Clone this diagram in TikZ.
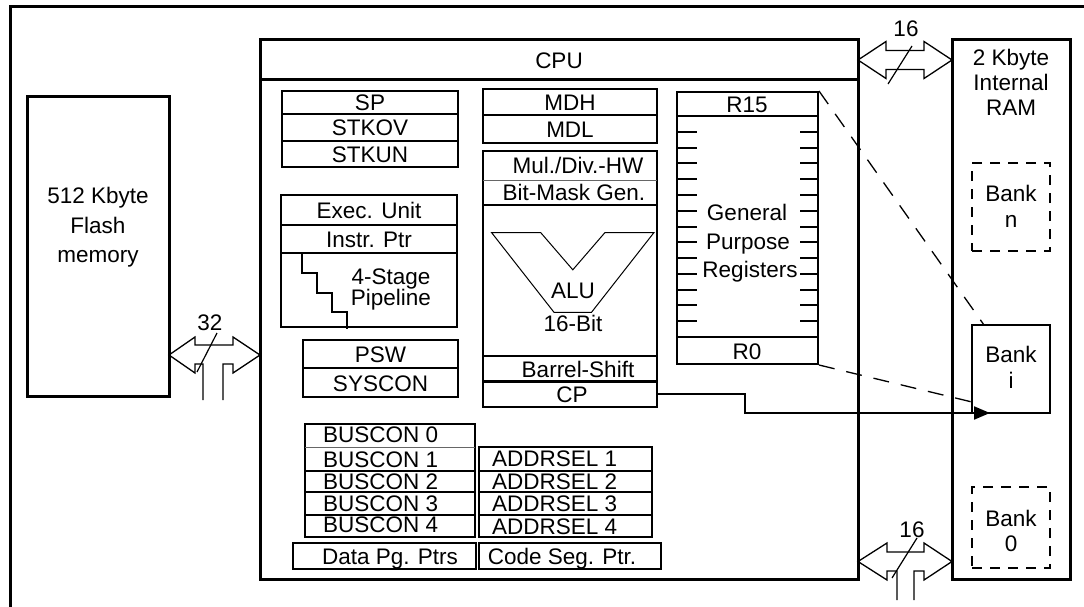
\documentclass[tikz,border=0pt]{standalone}
\usepackage{fontspec}
\setmainfont{Liberation Sans}
\usetikzlibrary{arrows.meta}
\begin{document}
\begin{tikzpicture}[x=1pt,y=-1pt,
  txt/.style={font=\fontsize{22.5}{27}\selectfont, inner sep=0pt, text height=16.1pt, text depth=0pt},
  heavy/.style={draw, line width=3pt, inner sep=0pt},
  cell/.style={draw, line width=2pt, inner sep=0pt},
  sep/.style={line width=2pt},
  thinsep/.style={line width=1pt, black!60},
  busarrow/.style={line width=1.3pt, line join=miter},
  slash/.style={line width=1.2pt},
  dashconn/.style={line width=1.3pt, dash pattern=on 16pt off 12pt},
  bankdash/.style={draw, line width=2pt, dash pattern=on 10pt off 8pt, inner sep=0pt},
  conn/.style={line width=2pt, -{Triangle[length=16pt,width=13pt]}},
]
\clip (0,0) rectangle (1084,607);
\useasboundingbox (0,0) rectangle (1084,607);

% outer frame
\draw[line width=3pt] (10,620) -- (10,7) -- (1100,7);

% flash
\node[heavy, minimum width=142, minimum height=299] (flash) at (98,246.5) {};
\node[txt] (fl1) at (98,195) {512 Kbyte};
\node[txt] (fl2) at (98,225) {Flash};
\node[txt] (fl3) at (98,254) {memory};

% CPU
\node[heavy, minimum width=598, minimum height=539] (cpu) at (559,309.5) {};
\draw[line width=3pt] (260,80) -- (858,80);
\node[txt] (cputxt) at (559,60) {CPU};

% SP stack
\node[cell, minimum width=176, minimum height=23] (sp) at (370,102.5) {};
\node[cell, minimum width=176, minimum height=27] (stkov) at (370,127.5) {};
\node[cell, minimum width=176, minimum height=26] (stkun) at (370,154) {};
\node[txt] at (370,102.5) {SP};
\node[txt] at (370,127.5) {STKOV};
\node[txt] at (370,154.5) {STKUN};

% Exec unit
\node[cell, minimum width=176, minimum height=30] (exec) at (369,210) {};
\node[cell, minimum width=176, minimum height=28] (instr) at (369,239) {};
\node[cell, minimum width=176, minimum height=74] (pipe) at (369,290) {};
\node[txt] at (369,210) {Exec. Unit};
\node[txt] at (369,239.5) {Instr. Ptr};
\node[txt] at (391,276) {4-Stage};
\node[txt] at (391,297) {Pipeline};
\draw[sep] (302,253) -- (302,273) -- (317,273) -- (317,293) -- (332,293) -- (332,312) -- (347,312) -- (347,329);

% PSW
\node[cell, minimum width=155, minimum height=28] (psw) at (380.5,354) {};
\node[cell, minimum width=155, minimum height=29] (syscon) at (380.5,382.5) {};
\node[txt] at (380.5,354) {PSW};
\node[txt] at (380.5,383) {SYSCON};

% MDH / MDL
\node[cell, minimum width=174, minimum height=26] (mdh) at (570,102) {};
\node[cell, minimum width=174, minimum height=28] (mdl) at (570,129) {};
\node[txt] at (570,102) {MDH};
\node[txt] at (570,129.5) {MDL};

% Mul/Div, ALU, Barrel
\node[cell, minimum width=174, minimum height=231] (muldiv) at (570,266.5) {};
\draw[thinsep] (483,180) -- (657,180);
\draw[sep] (483,205) -- (657,205);
\draw[sep] (483,356) -- (657,356);
\node[txt] at (578,165.5) {Mul./Div.-HW};
\node[txt] at (574,192.5) {Bit-Mask Gen.};
\node[txt] at (578,369) {Barrel-Shift};
\draw[line width=1pt] (491.5,232.5) -- (540.6,232.5) -- (572.8,269.8) -- (605,232.5) -- (654,232.5) -- (591.5,312.3) -- (554,312.3) -- cycle;
\node[txt] at (573,290) {ALU};
\node[txt] at (573,323) {16-Bit};
\node[cell, minimum width=174, minimum height=26] (cp) at (570,394) {};
\node[txt] at (572,394.5) {CP};

% General purpose registers
\node[cell, minimum width=141, minimum height=24] (r15) at (747.5,104) {};
\node[cell, minimum width=141, minimum height=221] (gpr) at (747.5,226.5) {};
\node[cell, minimum width=141, minimum height=27] (r0) at (747.5,350.5) {};
\node[txt] at (747,104.5) {R15};
\node[txt] at (747,351) {R0};
\node[txt] at (747,212) {General};
\node[txt] at (748,241) {Purpose};
\node[txt] at (750,269) {Registers};
\foreach \k in {1,...,13} {
  \draw[sep] (677,{116+15.79*\k}) -- (697,{116+15.79*\k});
  \draw[sep] (800,{116+15.79*\k}) -- (818,{116+15.79*\k});
}

% BUSCON
\node[cell, minimum width=170, minimum height=113] (buscon) at (390,480.5) {};
\draw[thinsep] (305,447) -- (475,447);
\draw[sep] (305,471) -- (475,471);
\draw[sep] (305,492) -- (475,492);
\draw[sep] (305,515) -- (475,515);
\node[txt, anchor=west] at (323,434) {BUSCON 0};
\node[txt, anchor=west] at (323,459) {BUSCON 1};
\node[txt, anchor=west] at (323,481) {BUSCON 2};
\node[txt, anchor=west] at (323,503) {BUSCON 3};
\node[txt, anchor=west] at (323,524) {BUSCON 4};

% ADDRSEL
\node[cell, minimum width=173, minimum height=90] (addrsel) at (565.5,492) {};
\draw[sep] (479,471) -- (652,471);
\draw[sep] (479,492) -- (652,492);
\draw[sep] (479,515) -- (652,515);
\node[txt, anchor=west] at (492,458.5) {ADDRSEL 1};
\node[txt, anchor=west] at (492,481) {ADDRSEL 2};
\node[txt, anchor=west] at (492,503.5) {ADDRSEL 3};
\node[txt, anchor=west] at (492,526) {ADDRSEL 4};

% pointers
\node[cell, minimum width=183, minimum height=26] (dpp) at (384.5,556) {};
\node[cell, minimum width=182, minimum height=26] (csp) at (570,556) {};
\node[txt] at (390,556) {Data Pg. Ptrs};
\node[txt] at (562,556) {Code Seg. Ptr.};

% RAM
\node[heavy, minimum width=118, minimum height=539] (ram) at (1011,309.5) {};
\node[txt] at (1011,57) {2 Kbyte};
\node[txt] at (1011,82) {Internal};
\node[txt] at (1011,107) {RAM};
\node[bankdash, minimum width=78, minimum height=88] (bankn) at (1011,207) {};
\node[txt] at (1011,193) {Bank};
\node[txt] at (1011,219) {n};
\node[cell, minimum width=78, minimum height=88] (banki) at (1011,369) {};
\node[txt] at (1011,354) {Bank};
\node[txt] at (1011,380) {i};
\node[bankdash, minimum width=78, minimum height=81] (bank0) at (1011,527.5) {};
\node[txt] at (1011,518) {Bank};
\node[txt] at (1011,543) {0};

% bus arrows
\draw[busarrow] (858,60) -- (886,41.5) -- (886,50.5) -- (924,50.5) -- (924,41.5) -- (952,60) -- (924,78.5) -- (924,69.5) -- (886,69.5) -- (886,78.5) -- cycle;
\draw[slash] (912,46) -- (888,84);
\node[txt] at (906,28) {16};

\draw[busarrow] (897,600) -- (897,571) -- (887,571) -- (887,580) -- (858,561.5) -- (887,543) -- (887,552) -- (924,552) -- (924,543) -- (952,561.5) -- (924,580) -- (924,571) -- (914,571) -- (914,600);
\draw[slash] (917,538) -- (892,578);
\node[txt] at (912,529) {16};

\draw[busarrow] (203,400) -- (203,364) -- (195,364) -- (195,373) -- (169,355) -- (195,337) -- (195,345) -- (233,345) -- (233,337) -- (260,355) -- (233,373) -- (233,364) -- (223,364) -- (223,400);
\draw[slash] (217,333) -- (197,372);
\node[txt] at (210,322) {32};

% connectors
\coordinate (bi1) at (984,325);
\coordinate (bi2) at (972,402);
\coordinate (cpin) at (990,413);
\coordinate (bend) at (745,413);
\draw[dashconn] (r15.north east) -- (bi1);
\draw[dashconn] (r0.south east) -- (bi2);
\draw[conn] (cp.east) -| (bend) -- (cpin);
\end{tikzpicture}
\end{document}
